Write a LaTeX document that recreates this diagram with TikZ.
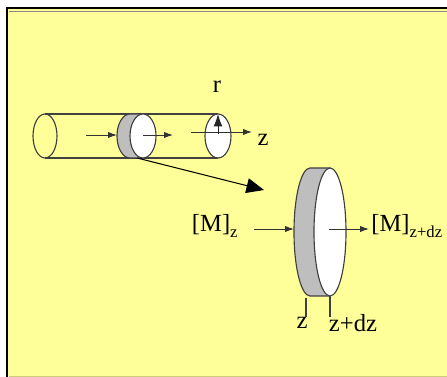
\documentclass[tikz,border=0pt]{standalone}
\usepackage{xcolor}
\usepackage{fontspec}
\setmainfont{Liberation Serif}
\usetikzlibrary{arrows.meta,positioning}
\definecolor{panel}{RGB}{255,255,153}
\definecolor{discgray}{RGB}{190,190,190}
\tikzset{
  wall/.style={draw=black!75,line width=0.65pt},
  flow/.style={-{Latex[length=5pt,width=3.5pt]},draw=black!80,line width=0.55pt},
  label/.style={inner sep=0pt,font=\fontsize{14}{14}\selectfont}
}
\begin{document}
\begin{tikzpicture}[x=0.02cm,y=-0.02cm]
  \useasboundingbox (0,0) rectangle (447,377);
  \fill[white] (0,0) rectangle (447,377);
  \fill[panel] (7,9) rectangle (447,376);
  \draw[black,line width=1.2pt] (7,377) -- (7,8) -- (447,8);
  \draw[black!45,line width=0.5pt] (9,11) -- (447,11);
  \draw[panel!80!black,line width=0.4pt] (9,376.5) -- (447,376.5);

  % tube
  \draw[wall] (45,114) -- (218,114);
  \draw[wall] (45,158) -- (218,158);
  \draw[wall] (45,136) ellipse (12 and 22);
  \draw[wall,fill=white] (218,136) ellipse (13 and 22);

  % slice in the tube
  \draw[wall,fill=discgray] (143,114) -- (130,114) arc (270:90:13 and 22) -- (143,158) -- cycle;
  \draw[wall,fill=white] (143,136) ellipse (13 and 22);

  \coordinate (in1) at (86,135);
  \coordinate (in2) at (117,135);
  \coordinate (out1) at (143,135);
  \coordinate (out2) at (173,135);
  \draw[flow] (in1) -- (in2);
  \draw[flow] (out1) -- (out2);

  \node[label] (zaxis) at (263,140) {z};
  \node[label] (rad) at (217,87) {r};
  \coordinate (axis1) at (191,132);
  \coordinate (axis2) at (252,132);
  \coordinate (rad1) at (218,134);
  \coordinate (rad2) at (218,114);
  \draw[flow] (axis1) -- (axis2);
  \draw[-{Latex[length=7pt,width=5pt]},black!85,line width=0.55pt] (rad1) -- (rad2);

  % pointer to the big slice
  \coordinate (zoom1) at (137,158);
  \coordinate (zoom2) at (264,190);
  \draw[black,line width=0.6pt,-{Triangle[length=10pt,width=8.5pt,fill=black]}] (zoom1) -- (zoom2);

  % big slice
  \draw[wall,fill=discgray] (330,168) -- (310,168) arc (270:90:16 and 64) -- (330,296) -- cycle;
  \draw[wall,fill=white] (330,232) ellipse (16 and 64);

  \node[label,anchor=east] (mz) at (238,226) {[M]\raisebox{-3pt}{\fontsize{9.5}{10}\selectfont z}};
  \node[label,anchor=west] (mdz) at (371,226) {[M]\raisebox{-3pt}{\fontsize{9.5}{10}\selectfont z+dz}};
  \coordinate (mz1) at (254,229);
  \coordinate (mz2) at (294,229);
  \coordinate (mdz1) at (329,229);
  \coordinate (mdz2) at (369,229);
  \draw[flow] (mz1) -- (mz2);
  \draw[flow] (mdz1) -- (mdz2);

  \node[label] (zl) at (302,323) {z};
  \node[label] (zr) at (353,323) {z+dz};
  \coordinate (t1) at (306,298);
  \coordinate (t2) at (330,296);
  \draw[wall] (t1) -- (306,317);
  \draw[wall] (t2) -- (330,317);
\end{tikzpicture}
\end{document}
